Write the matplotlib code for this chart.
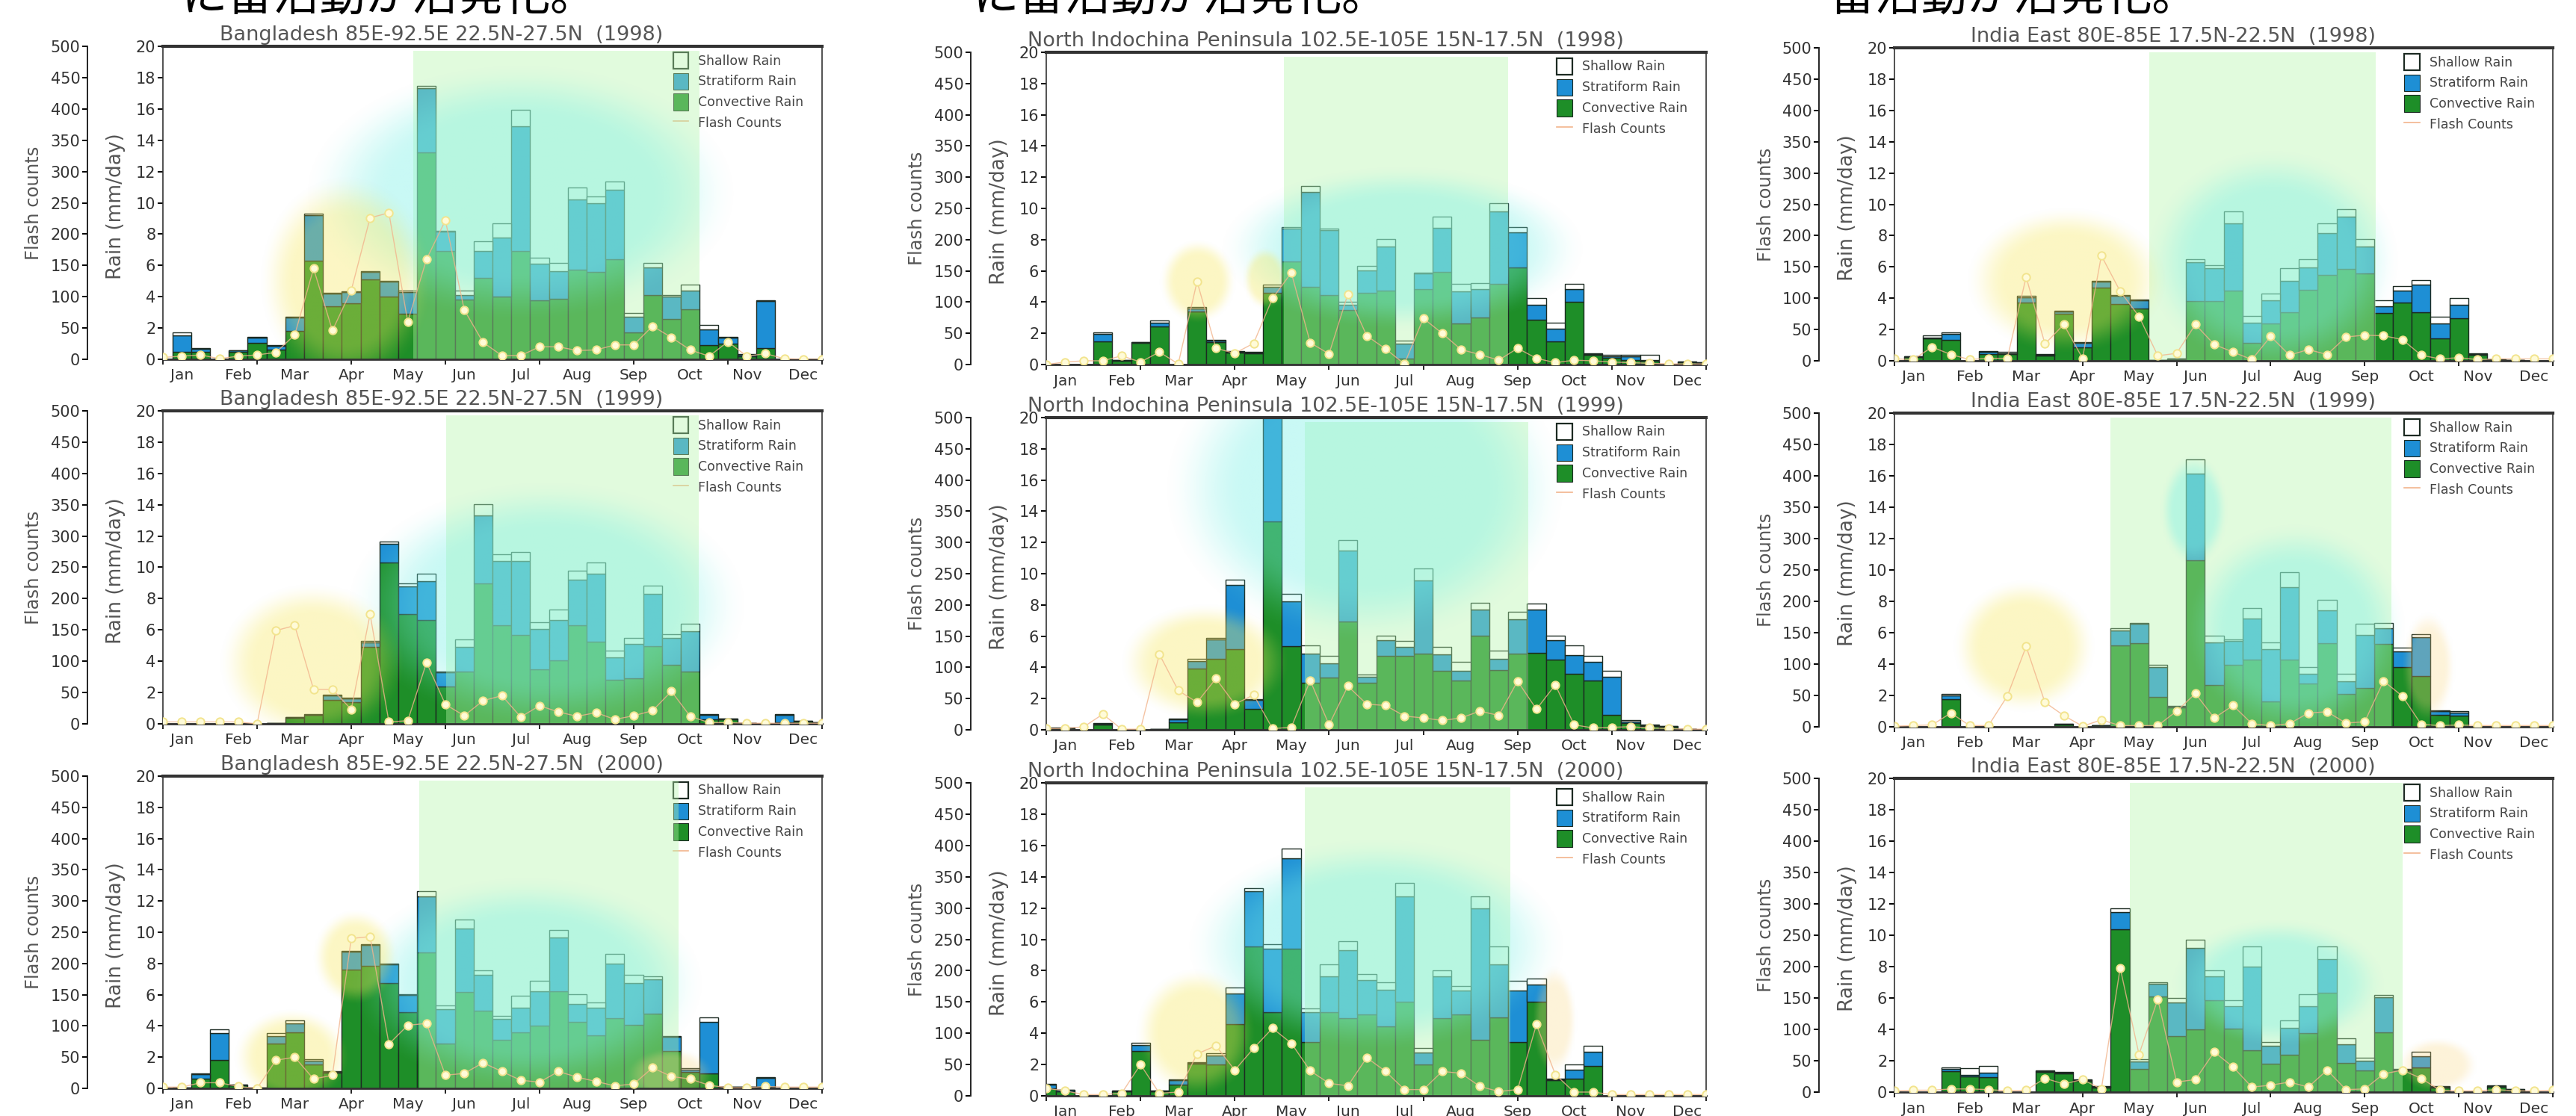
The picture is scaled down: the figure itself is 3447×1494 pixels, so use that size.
import numpy as np
import matplotlib
matplotlib.use("Agg")
import matplotlib.pyplot as plt
from matplotlib.patches import Patch
from matplotlib.lines import Line2D

W, H = 3447, 1494
months = ["Jan","Feb","Mar","Apr","May","Jun","Jul","Aug","Sep","Oct","Nov","Dec"]
month_pos = [1,4,7,10,13,16,19,22,25,28,31,34]
dekads = list(range(36))
rain_ticks = list(range(0,21,2))
flash_ticks = list(range(0,501,50))
labels = ["Shallow Rain","Stratiform Rain","Convective Rain","Flash Counts"]

bd = "Bangladesh 85E-92.5E 22.5N-27.5N  "
ni = "North Indochina Peninsula 102.5E-105E 15N-17.5N  "
ie = "India East 80E-85E 17.5N-22.5N  "

# cumulative tops of the stacked bars (mm/day) and flash counts, by 10-day period
bd98_conv  = [0,.5,.5,0,.5,1.05,.6,1.8,6.3,3.4,3.6,5.1,4.0,2.9,13.2,6.9,3.8,5.2,4.0,6.9,3.75,3.85,5.75,5.6,6.4,1.7,4.1,2.6,3.2,.9,1.0,.2,.7,0,0,0]
bd98_strat = [0,1.55,.68,0,.55,1.4,.85,2.65,9.2,4.2,4.3,5.6,4.95,4.3,17.35,8.15,4.1,6.9,7.8,14.9,6.1,5.65,10.2,10.0,10.85,2.7,5.85,4.0,4.4,1.9,1.4,.3,3.7,0,0,0]
bd98_total = [0,1.7,.7,0,.55,1.45,.9,2.7,9.3,4.25,4.35,5.65,5.0,4.4,17.45,8.2,4.4,7.55,8.7,15.95,6.5,6.15,11,10.4,11.35,2.95,6.15,4.1,4.75,2.2,1.45,.35,3.75,0,0,0]
bd98_flash = [3,5,7,1,5,7,11,39,145,46,110,226,234,60,160,222,79,27,6,6,20,20,14,15,23,23,53,35,15,5,28,5,9,1,0,0]

bd99_conv  = [0,0,0,0,0,0,.05,.4,.55,1.55,1.4,4.9,10.3,7.0,6.65,2.4,3.35,8.95,6.3,5.7,3.5,4.05,6.3,5.25,2.8,2.9,4.95,3.75,3.35,.3,.3,.05,0,.1,.15,.1]
bd99_strat = [0,0,0,0,0,0,.05,.42,.58,1.8,1.6,5.2,11.5,8.8,9.1,3.3,4.9,13.3,10.4,10.4,6.05,6.65,9.2,9.6,4.25,5.1,8.3,5.5,5.9,.55,.33,.05,0,.55,.18,.1]
bd99_total = [0,0,0,0,0,0,.05,.45,.6,1.85,1.65,5.3,11.65,8.95,9.6,3.35,5.4,14.05,10.85,11,6.5,7.3,9.8,10.3,4.7,5.5,8.85,5.75,6.4,.6,.35,.05,0,.6,.2,.1]
bd99_flash = [3,3,3,3,3,0,149,157,55,55,23,175,3,5,98,31,13,37,45,11,29,19,12,18,7,13,21,52,12,2,2,1,1,1,1,1]

bd00_conv  = [0,.04,.6,1.8,.2,.05,2.85,3.6,1.55,1.0,7.6,7.85,6.75,4.9,8.7,2.85,6.15,5.0,3.1,3.6,4.0,6.2,4.25,3.4,4.5,4.05,4.8,2.4,1.05,.95,.1,.1,.1,0,0,0]
bd00_strat = [0,.05,.9,3.55,.22,.05,3.35,4.15,1.75,1.05,8.75,9.2,7.95,6.0,12.3,5.05,10.25,7.25,4.45,5.15,6.2,9.65,5.4,5.15,8.0,6.75,7.0,3.3,1.2,4.25,.1,.1,.65,0,0,0]
bd00_total = [0,.05,.95,3.8,.25,.05,3.55,4.35,1.85,1.1,8.8,9.25,8.0,6.05,12.65,5.3,10.8,7.55,4.65,5.95,6.9,10.15,6.05,5.5,8.6,7.25,7.2,3.35,1.3,4.55,.1,.1,.7,0,0,0]
bd00_flash = [2,2,9,9,3,0,45,50,15,21,240,243,71,101,104,21,24,41,27,13,10,27,18,11,4,7,33,19,15,5,1,1,3,2,2,2]

ni98_conv  = [0,0,0,1.5,.25,1.4,2.45,0,3.4,1.45,.75,.7,4.6,6.6,5.0,4.45,3.5,4.6,4.75,.4,4.85,5.95,2.65,3.0,5.15,6.2,2.85,1.5,4.0,.6,.45,.3,.25,0,.15,.1]
ni98_strat = [0,0,0,1.95,.28,1.42,2.7,0,3.6,1.55,.8,.75,5.0,8.7,11.05,8.6,3.85,6.05,7.55,1.35,5.85,8.75,4.7,4.85,9.8,8.45,3.85,2.3,4.85,.65,.55,.55,.3,0,.18,.12]
ni98_total = [0,0,0,2.05,.3,1.45,2.8,0,3.7,1.6,.85,.8,5.1,8.8,11.45,8.7,4.0,6.3,8.05,1.55,5.9,9.45,5.15,5.2,10.35,8.8,4.25,2.7,5.15,.7,.6,.6,.6,0,.2,.15]
ni98_flash = [0,4,6,6,14,4,20,1,133,26,18,34,106,147,35,17,113,46,25,1,74,50,24,16,7,26,10,3,7,6,4,3,2,1,1,1]

ni99_conv  = [.1,.1,0,.35,0,0,.04,.5,3.9,4.55,5.15,1.35,13.35,5.35,3.0,3.35,6.95,3.0,4.75,4.75,4.9,3.8,3.15,6.05,3.85,4.9,4.95,4.5,3.6,3.15,.95,.45,.25,.2,.05,0]
ni99_strat = [.11,.11,0,.4,0,0,.05,.65,4.4,5.8,9.3,1.9,20,8.25,4.9,4.25,11.5,3.4,5.75,5.3,9.55,4.85,3.8,7.7,4.55,7.1,7.7,5.75,4.8,4.35,3.4,.55,.3,.22,.05,0]
ni99_total = [.12,.12,0,.45,0,0,.05,.7,4.55,5.9,9.6,1.95,20,8.7,5.4,4.75,12.15,3.55,6.05,5.7,10.35,5.3,4.35,8.15,5.05,7.55,8.1,6.05,5.4,4.75,3.8,.6,.35,.25,.05,0]
ni99_flash = [2,2,5,25,1,1,121,63,44,82,41,56,2,4,79,8,70,41,39,22,19,15,19,30,23,78,33,72,8,3,4,5,3,2,1,1]

ni00_conv  = [.5,.3,0,0,.3,2.85,.3,.7,2.05,2.0,4.6,9.55,5.35,9.4,3.45,5.35,4.95,5.2,4.45,6.0,2.0,4.95,5.2,3.6,5.0,3.45,6.0,1.0,1.1,1.9,0,0,0,0,0,0]
ni00_strat = [.7,.38,0,0,.33,3.25,.33,1.0,2.1,2.6,6.55,13.1,9.4,15.2,5.35,7.65,9.3,7.4,6.8,12.75,2.75,7.65,6.75,12.0,8.4,6.75,7.1,1.05,1.65,2.8,0,0,0,0,0,0]
ni00_total = [.75,.4,0,0,.35,3.4,.35,1.05,2.15,2.7,6.9,13.25,9.7,15.8,5.6,8.4,9.9,7.8,7.25,13.6,3.05,8.0,7.0,12.75,9.55,7.35,7.5,1.1,2.0,3.2,0,0,0,0,0,0]
ni00_flash = [12,8,2,2,4,50,4,6,67,80,41,76,108,84,40,20,16,61,39,10,10,39,36,15,7,10,114,34,6,6,2,2,2,2,2,2]

ie98_conv  = [0,.25,1.45,1.35,0,.45,.45,3.7,.35,3.0,.85,4.7,3.65,3.35,.03,.1,3.8,3.8,4.5,1.15,2.4,3.1,4.55,5.5,5.85,5.6,3.05,3.7,3.1,1.45,2.7,.4,.1,.05,0,0]
ie98_strat = [0,.28,1.5,1.7,0,.55,.5,4.05,.4,3.15,1.15,5.05,4.15,3.85,.04,.13,6.3,5.9,8.8,2.45,3.85,5.1,5.95,8.15,9.2,7.3,3.5,4.5,4.85,2.4,3.6,.45,.1,.05,0,0]
ie98_total = [0,.3,1.6,1.8,0,.6,.55,4.15,.45,3.2,1.2,5.1,4.2,3.9,.05,.15,6.5,6.1,9.55,2.85,4.3,5.9,6.5,8.8,9.7,7.8,3.85,4.75,5.15,2.8,4.0,.5,.1,.05,0,0]
ie98_flash = [3,2,22,10,2,4,4,134,27,58,4,168,111,71,8,12,58,26,14,2,39,9,18,10,38,41,40,34,9,3,5,2,3,3,3,3]

ie99_conv  = [0,0,0,1.75,0,0,0,0,0,.15,0,.08,5.2,5.35,1.9,1.25,10.6,2.65,3.95,4.3,1.6,4.3,2.75,5.35,2.1,2.5,5.3,3.8,3.25,.75,.7,0,0,0,0,0]
ie99_strat = [0,0,0,2.0,0,0,0,0,0,.18,0,.09,6.15,6.55,3.8,1.3,16.15,5.4,5.5,6.9,4.95,8.9,3.4,7.45,2.9,5.85,6.3,4.8,5.7,1.0,.9,0,0,0,0,0]
ie99_total = [0,0,0,2.1,0,0,0,0,0,.2,0,.1,6.3,6.6,3.95,1.35,17.05,5.8,5.55,7.55,5.4,9.85,3.8,8.1,3.4,6.55,6.6,5.05,5.9,1.05,1.0,0,0,0,0,0]
ie99_flash = [1,2,3,22,2,2,49,128,39,18,1,11,2,2,2,25,53,14,34,5,2,5,22,24,6,8,73,49,4,2,3,2,2,2,2,2]

ie00_conv  = [0,0,0,1.35,1.0,.95,0,0,1.3,1.2,.7,.3,10.4,1.5,6.1,3.55,4.0,5.85,4.05,2.65,1.8,2.4,3.75,6.35,1.85,1.4,3.8,1.4,1.55,.3,0,0,.35,.15,0,0]
ie00_strat = [0,0,0,1.5,1.1,1.25,0,0,1.35,1.25,.75,.35,11.5,1.95,6.9,5.7,9.2,7.4,5.5,8.0,2.95,4.1,5.5,8.5,3.05,2.0,6.05,1.45,2.3,.35,0,0,.4,.18,0,0]
ie00_total = [0,0,0,1.55,1.5,1.65,0,0,1.4,1.3,.8,.4,11.7,2.1,7.0,6.0,9.7,7.75,5.85,9.3,3.2,4.55,6.25,9.3,3.45,2.2,6.2,1.5,2.55,.4,0,0,.45,.2,0,0]
ie00_flash = [2,3,3,5,5,4,2,3,22,13,20,5,198,60,148,16,20,64,40,8,11,16,8,35,4,5,29,35,22,3,2,2,4,2,2,3]

CYAN = ((120,240,230), 0.40)
YEL = ((247,232,90), 0.36)
ORG = ((250,215,130), 0.30)
panels = [
 (bd+"(1998)", (218,1100,62,481),   bd98_conv,bd98_strat,bd98_total,bd98_flash,(13.3,28.5),
  [(19,10.6,9.7,7,CYAN),(9.7,5,3.9,5.7,YEL)]),
 (bd+"(1999)", (218,1100,550,969),  bd99_conv,bd99_strat,bd99_total,bd99_flash,(15.05,28.45),
  [(20.4,7.6,9,6.7,CYAN),(7.9,3.9,4.2,4.3,YEL)]),
 (bd+"(2000)", (218,1100,1039,1457),bd00_conv,bd00_strat,bd00_total,bd00_flash,(13.6,27.4),
  [(19.3,6.7,8,5.8,CYAN),(10.2,8.4,1.9,2.6,YEL),(6.8,2,2.6,2.6,YEL),(27,.8,2,1.5,ORG)]),
 (ni+"(1998)", (1400,2283,70,488),  ni98_conv,ni98_strat,ni98_total,ni98_flash,(12.6,24.5),
  [(18.9,7.4,8.2,4.5,CYAN),(8,5.3,1.7,2.3,YEL),(11.6,5.5,1,1.7,YEL)]),
 (ni+"(1999)", (1400,2283,559,977), ni99_conv,ni99_strat,ni99_total,ni99_flash,(13.7,25.55),
  [(16.9,15.5,9,8.5,CYAN),(8.4,4.3,3.8,3.2,YEL)]),
 (ni+"(2000)", (1400,2283,1048,1467),ni00_conv,ni00_strat,ni00_total,ni00_flash,(13.7,24.6),
  [(17.5,9.6,8.5,5.8,CYAN),(7.9,4,2.7,3.5,YEL),(27,4.8,1,3,ORG)]),
 (ie+"(1998)", (2535,3416,64,483),  ie98_conv,ie98_strat,ie98_total,ie98_flash,(13.55,25.6),
  [(20.1,6.4,5.7,6,CYAN),(9.1,5.1,4.5,4,YEL)]),
 (ie+"(1999)", (2535,3416,553,973), ie99_conv,ie99_strat,ie99_total,ie99_flash,(11.5,26.4),
  [(15.9,13.8,1.5,3,CYAN),(21.3,6.2,5,5.7,CYAN),(6.85,5.1,3.2,3.6,YEL),(28.4,3.8,1.2,3,ORG)]),
 (ie+"(2000)", (2535,3416,1042,1462),ie00_conv,ie00_strat,ie00_total,ie00_flash,(12.5,27.0),
  [(20.4,6.9,4.8,3.5,CYAN),(28.9,1.7,1.8,1.5,ORG)]),
]
headers = [("に雷活動が活発化。",242),("に雷活動が活発化。",1301),("雷活動が活発化。",2447)]

C_CONV, C_STRAT, C_SHAL = "#1E8E28", "#1E8FD5", "#FFFFFF"
EDGE = "#1c2a22"
GRAY = "#555555"

def glow(ax, cx, cy, rx, ry, style):
    rgb, peak = style
    xs = np.linspace(0, 35, 220)
    ys = np.linspace(0, 20, 220)
    X, Y = np.meshgrid(xs, ys)
    r = np.sqrt(((X-cx)/rx)**2 + ((Y-cy)/ry)**2)
    t = np.clip((1.2-r)/0.5, 0, 1)
    a = t*t*(3-2*t)*peak
    img = np.zeros(X.shape+(4,))
    img[...,0], img[...,1], img[...,2] = rgb[0]/255, rgb[1]/255, rgb[2]/255
    img[...,3] = a
    ax.imshow(img, extent=(0,35,0,20), origin="lower", aspect="auto",
              zorder=4, interpolation="bilinear")

fig = plt.figure(figsize=(W/100, H/100), dpi=100, facecolor="white")

for title, (l,r,t,b), conv, strat, total, flash, span, glows in panels:
    ax = fig.add_axes([l/W, 1-b/H, (r-l)/W, (b-t)/H])
    x = np.array(dekads)
    conv_a, strat_a, total_a = np.array(conv), np.array(strat), np.array(total)
    ax.bar(x, conv_a, width=1, color=C_CONV, edgecolor=EDGE, linewidth=1.0, zorder=2)
    ax.bar(x, strat_a-conv_a, bottom=conv_a, width=1, color=C_STRAT, edgecolor=EDGE, linewidth=1.0, zorder=2)
    ax.bar(x, total_a-strat_a, bottom=strat_a, width=1, color=C_SHAL, edgecolor=EDGE, linewidth=1.0, zorder=2)
    ax.axvspan(span[0], span[1], ymin=0, ymax=0.985, facecolor=(182/255,247/255,170/255), alpha=0.4, linewidth=0, zorder=4)
    for g in glows:
        glow(ax, *g)
    ax.set_xlim(0, 35)
    ax.set_ylim(0, 20)
    ax.xaxis.remove_overlapping_locs = False
    ax.set_xticks(range(0, 36, 5))
    ax.set_xticklabels([])
    ax.set_xticks(month_pos, minor=True)
    ax.set_xticklabels(months, minor=True, fontsize=14.5, color="#333333")
    ax.tick_params(axis="x", which="major", length=5, width=1.4, color="#222222")
    ax.tick_params(axis="x", which="minor", length=0, pad=9)
    ax.set_yticks(rain_ticks)
    ax.tick_params(axis="y", length=5, width=1.4, labelsize=15, labelcolor="#333333", pad=2)
    ax.set_ylabel("Rain (mm/day)", fontsize=19, color=GRAY)
    ax.yaxis.set_label_coords(-0.057, 0.49)
    ax.set_title(title, x=0.423, y=1.02, pad=0, fontsize=19.5, color=GRAY)
    for name, lw in (("top",3.0),("bottom",2.0),("left",1.2),("right",1.2)):
        ax.spines[name].set_linewidth(lw)
        ax.spines[name].set_color("#333333")
        ax.spines[name].set_zorder(6)
    handles = [Patch(facecolor=C_SHAL, edgecolor=EDGE, linewidth=1.6),
               Patch(facecolor=C_STRAT, edgecolor=EDGE, linewidth=0.8),
               Patch(facecolor=C_CONV, edgecolor=EDGE, linewidth=0.8),
               Line2D([0],[0], color="#F2B48C", linewidth=1.2)]
    leg = ax.legend(handles, labels, loc="upper left", bbox_to_anchor=(0.77, 0.99),
                    frameon=False, fontsize=12.5, handlelength=1.2, handleheight=1.6,
                    labelspacing=0.32, handletextpad=0.75, borderpad=0.2, borderaxespad=0,
                    labelcolor="#444444")
    leg.set_zorder(3)

    ax2 = ax.twinx()
    ax2.plot(x, flash, "-", color="#F2B48C", linewidth=1.0, alpha=0.8, zorder=5)
    ax2.plot(x, flash, "none", marker="o", markersize=7.5,
             markerfacecolor="#FFFBD8", markeredgecolor="#F2E48E", markeredgewidth=1.4, zorder=5)
    ax2.set_ylim(0, 500)
    ax2.set_yticks(flash_ticks)
    ax2.yaxis.tick_left()
    ax2.yaxis.set_label_position("left")
    for name in ("top","bottom","right"):
        ax2.spines[name].set_visible(False)
    ax2.spines["left"].set_position(("outward", 101*0.72))
    ax2.spines["left"].set_linewidth(1.4)
    ax2.spines["left"].set_color("#222222")
    ax2.tick_params(axis="y", length=5, width=1.4, labelsize=15, labelcolor="#333333", pad=2)
    ax2.set_ylabel("Flash counts", fontsize=17.5, color=GRAY)
    ax2.yaxis.set_label_coords(-0.182, 0.5)

for text, px in headers:
    fig.text(px/W, 1-14/H, text, fontsize=44.5, color="black", ha="left", va="baseline",
             family=["Noto Sans CJK JP", "DejaVu Sans"])

fig.savefig("out.png", dpi=100)
